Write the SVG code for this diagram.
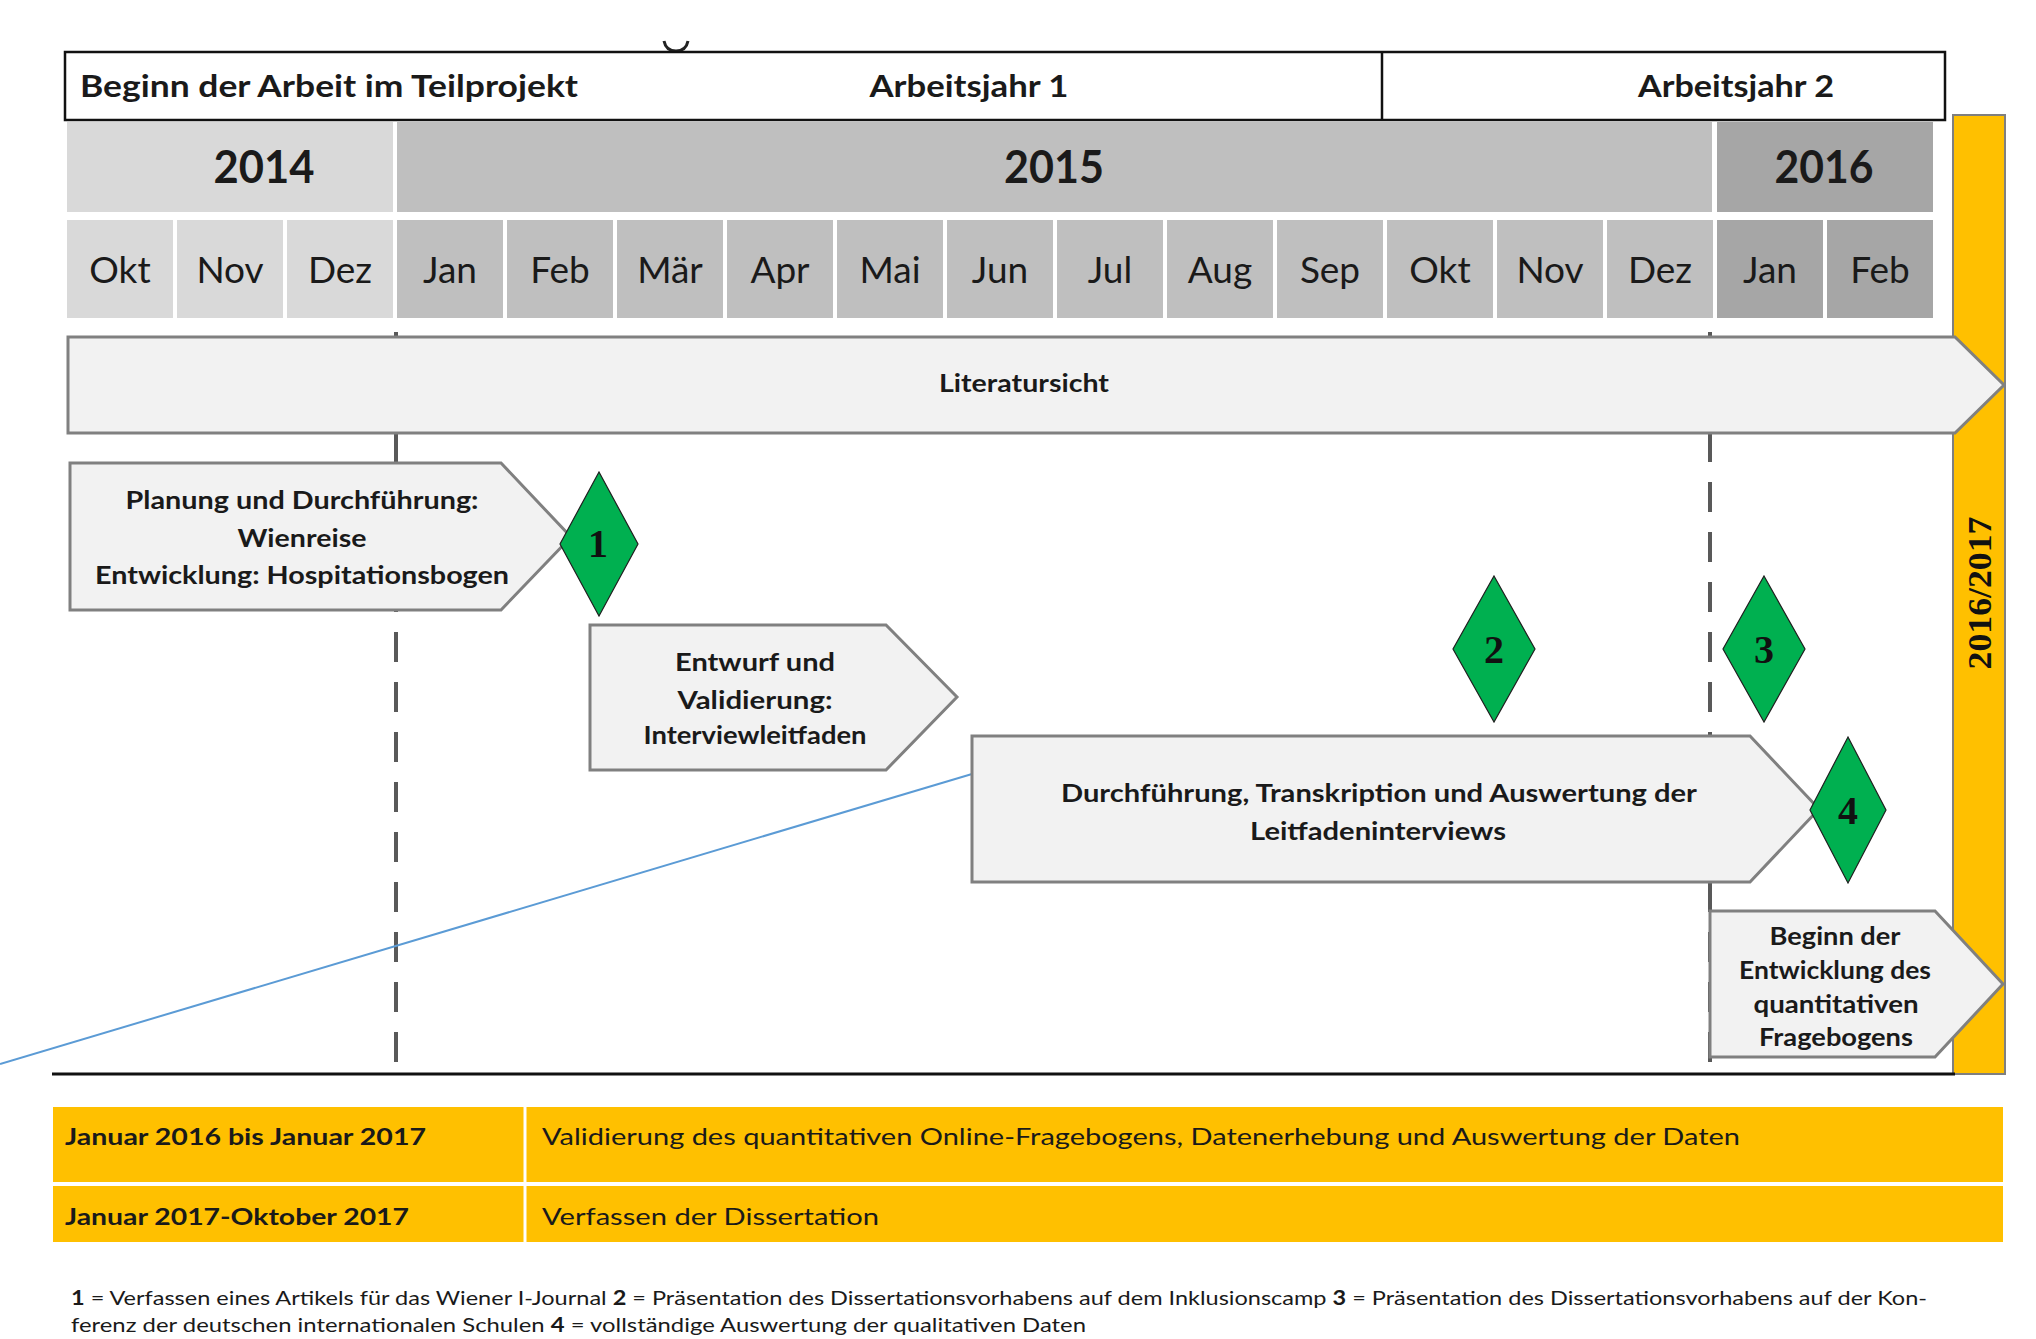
<svg xmlns="http://www.w3.org/2000/svg" width="2036" height="1339" viewBox="0 0 2036 1339">
<style>
.t{font-family:Lato,"Liberation Sans",sans-serif;fill:#1a1a1a}
.b{font-weight:700}
.c{text-anchor:middle}
.hdr{font-size:30px}
.yr{font-size:46px;font-weight:700}
.mo{font-size:37px}
.box{fill:#f2f2f2;stroke:#808080;stroke-width:3;stroke-linejoin:miter}
.lbl{font-size:25px;font-weight:700}
.dia{fill:#00b050;stroke:#1f1f1f;stroke-width:1.2}
.num{font-family:"Liberation Serif",serif;font-weight:700;font-size:40px;text-anchor:middle;fill:#111}
.y14{fill:#d9d9d9}.y15{fill:#bfbfbf}.y16{fill:#a6a6a6}
.dash{stroke:#595959;stroke-width:4;stroke-dasharray:30 20;fill:none}
.tab{font-size:23px}
.leg{font-size:20px}
</style>

<!-- small cropped fragment at top -->
<path d="M664,41 Q666,51 676,51 Q686,51 688,41" fill="none" stroke="#222" stroke-width="3"/>

<g id="header">
  <rect x="65" y="52" width="1880" height="68" fill="#fff" stroke="#111" stroke-width="2.5"/>
  <line x1="1382" y1="52" x2="1382" y2="120" stroke="#111" stroke-width="2.5"/>
  <text class="t b hdr" x="80" y="97" textLength="498" lengthAdjust="spacingAndGlyphs">Beginn der Arbeit im Teilprojekt</text>
  <text class="t b hdr c" x="969" y="97" textLength="199" lengthAdjust="spacingAndGlyphs">Arbeitsjahr 1</text>
  <text class="t b hdr c" x="1736" y="97" textLength="196" lengthAdjust="spacingAndGlyphs">Arbeitsjahr 2</text>
</g>

<g id="years">
  <rect class="y14" x="67" y="122" width="326" height="90"/>
  <rect class="y15" x="397" y="122" width="1315" height="90"/>
  <rect class="y16" x="1717" y="122" width="216" height="90"/>
  <text class="t yr c" x="264" y="183" textLength="101" lengthAdjust="spacingAndGlyphs">2014</text>
  <text class="t yr c" x="1054" y="183" textLength="100" lengthAdjust="spacingAndGlyphs">2015</text>
  <text class="t yr c" x="1824" y="183" textLength="99" lengthAdjust="spacingAndGlyphs">2016</text>
</g>

<g id="months">
  <rect class="y14" x="67" y="220" width="106" height="98"/>
  <rect class="y14" x="177" y="220" width="106" height="98"/>
  <rect class="y14" x="287" y="220" width="106" height="98"/>
  <rect class="y15" x="397" y="220" width="106" height="98"/>
  <rect class="y15" x="507" y="220" width="106" height="98"/>
  <rect class="y15" x="617" y="220" width="106" height="98"/>
  <rect class="y15" x="727" y="220" width="106" height="98"/>
  <rect class="y15" x="837" y="220" width="106" height="98"/>
  <rect class="y15" x="947" y="220" width="106" height="98"/>
  <rect class="y15" x="1057" y="220" width="106" height="98"/>
  <rect class="y15" x="1167" y="220" width="106" height="98"/>
  <rect class="y15" x="1277" y="220" width="106" height="98"/>
  <rect class="y15" x="1387" y="220" width="106" height="98"/>
  <rect class="y15" x="1497" y="220" width="106" height="98"/>
  <rect class="y15" x="1607" y="220" width="106" height="98"/>
  <rect class="y16" x="1717" y="220" width="106" height="98"/>
  <rect class="y16" x="1827" y="220" width="106" height="98"/>
  <text class="t mo c" x="120" y="283">Okt</text>
  <text class="t mo c" x="230" y="283">Nov</text>
  <text class="t mo c" x="340" y="283">Dez</text>
  <text class="t mo c" x="450" y="283">Jan</text>
  <text class="t mo c" x="560" y="283">Feb</text>
  <text class="t mo c" x="670" y="283">Mär</text>
  <text class="t mo c" x="780" y="283">Apr</text>
  <text class="t mo c" x="890" y="283">Mai</text>
  <text class="t mo c" x="1000" y="283">Jun</text>
  <text class="t mo c" x="1110" y="283">Jul</text>
  <text class="t mo c" x="1220" y="283">Aug</text>
  <text class="t mo c" x="1330" y="283">Sep</text>
  <text class="t mo c" x="1440" y="283">Okt</text>
  <text class="t mo c" x="1550" y="283">Nov</text>
  <text class="t mo c" x="1660" y="283">Dez</text>
  <text class="t mo c" x="1770" y="283">Jan</text>
  <text class="t mo c" x="1880" y="283">Feb</text>
</g>

<g id="bar-2016-2017">
  <rect x="1953" y="115" width="52" height="959" fill="#ffc000" stroke="#7f7f7f" stroke-width="2"/>
  <text font-family="'Liberation Serif',serif" font-weight="700" font-size="34" fill="#111" text-anchor="middle" transform="translate(1991,593) rotate(-90)" textLength="153" lengthAdjust="spacingAndGlyphs">2016/2017</text>
</g>

<g id="connectors">
  <line class="dash" x1="396" y1="332" x2="396" y2="1074"/>
  <line class="dash" x1="1710" y1="332" x2="1710" y2="1074"/>
  <line x1="0" y1="1064" x2="972" y2="774" stroke="#5b9bd5" stroke-width="2"/>
  <line x1="52" y1="1074" x2="1955" y2="1074" stroke="#111" stroke-width="3"/>
</g>

<g id="literatursicht">
  <path class="box" d="M68,337 L1955,337 L2004,385 L1955,433 L68,433 Z"/>
  <text class="t lbl c" x="1024" y="392" textLength="170" lengthAdjust="spacingAndGlyphs">Literatursicht</text>
</g>

<g id="planung">
  <path class="box" d="M70,463 L501,463 L571,537 L501,610 L70,610 Z"/>
  <text class="t lbl c" x="302" y="509" textLength="353" lengthAdjust="spacingAndGlyphs">Planung und Durchführung:</text>
  <text class="t lbl c" x="302" y="547" textLength="129" lengthAdjust="spacingAndGlyphs">Wienreise</text>
  <text class="t lbl c" x="302" y="584" textLength="414" lengthAdjust="spacingAndGlyphs">Entwicklung: Hospitationsbogen</text>
</g>

<g id="entwurf">
  <path class="box" d="M590,625 L886,625 L957,697 L886,770 L590,770 Z"/>
  <text class="t lbl c" x="755" y="671" textLength="160" lengthAdjust="spacingAndGlyphs">Entwurf und</text>
  <text class="t lbl c" x="755" y="709" textLength="155" lengthAdjust="spacingAndGlyphs">Validierung:</text>
  <text class="t lbl c" x="755" y="744" textLength="223" lengthAdjust="spacingAndGlyphs">Interviewleitfaden</text>
</g>

<g id="durchfuehrung">
  <path class="box" d="M972,736 L1750,736 L1819,809 L1750,882 L972,882 Z"/>
  <text class="t lbl c" x="1379" y="802" textLength="636" lengthAdjust="spacingAndGlyphs">Durchführung, Transkription und Auswertung der</text>
  <text class="t lbl c" x="1378" y="840" textLength="256" lengthAdjust="spacingAndGlyphs">Leitfadeninterviews</text>
</g>

<g id="beginn-fragebogen">
  <path class="box" d="M1710,911 L1935,911 L2003,984 L1935,1057 L1710,1057 Z"/>
  <text class="t lbl c" x="1835" y="945" font-size="24" textLength="131" lengthAdjust="spacingAndGlyphs">Beginn der</text>
  <text class="t lbl c" x="1835" y="979" font-size="24" textLength="192" lengthAdjust="spacingAndGlyphs">Entwicklung des</text>
  <text class="t lbl c" x="1836" y="1013" font-size="24" textLength="165" lengthAdjust="spacingAndGlyphs">quantitativen</text>
  <text class="t lbl c" x="1836" y="1046" font-size="24" textLength="154" lengthAdjust="spacingAndGlyphs">Fragebogens</text>
</g>

<g id="milestone-1">
  <polygon class="dia" points="599,472 638,544 599,616 560,544"/>
  <text class="num" x="598" y="557">1</text>
</g>
<g id="milestone-2">
  <polygon class="dia" points="1494,576 1535,649 1494,722 1453,649"/>
  <text class="num" x="1494" y="663">2</text>
</g>
<g id="milestone-3">
  <polygon class="dia" points="1764,576 1805,649 1764,722 1723,649"/>
  <text class="num" x="1764" y="663">3</text>
</g>
<g id="milestone-4">
  <polygon class="dia" points="1848,737 1886,810 1848,883 1810,810"/>
  <text class="num" x="1848" y="824">4</text>
</g>

<g id="table">
  <rect x="53" y="1107" width="1950" height="75" fill="#ffc000"/>
  <rect x="53" y="1186" width="1950" height="56" fill="#ffc000"/>
  <line x1="525" y1="1107" x2="525" y2="1242" stroke="#fff" stroke-width="3"/>
  <text class="t b tab" x="65" y="1145" textLength="361" lengthAdjust="spacingAndGlyphs">Januar 2016 bis Januar 2017</text>
  <text class="t tab" x="542" y="1145" textLength="1198" lengthAdjust="spacingAndGlyphs">Validierung des quantitativen Online-Fragebogens, Datenerhebung  und Auswertung der Daten</text>
  <text class="t b tab" x="65" y="1225" textLength="344" lengthAdjust="spacingAndGlyphs">Januar 2017-Oktober 2017</text>
  <text class="t tab" x="542" y="1225" textLength="337" lengthAdjust="spacingAndGlyphs">Verfassen der Dissertation</text>
</g>

<g id="legend">
  <text class="t leg" x="71" y="1305" textLength="1856" lengthAdjust="spacingAndGlyphs"><tspan font-weight="700">1</tspan> = Verfassen eines Artikels für das Wiener I-Journal <tspan font-weight="700">2</tspan> = Präsentation  des Dissertationsvorhabens  auf dem Inklusionscamp  <tspan font-weight="700">3</tspan> = Präsentation des Dissertationsvorhabens  auf der Kon-</text>
  <text class="t leg" x="71" y="1332" textLength="1015" lengthAdjust="spacingAndGlyphs">ferenz der deutschen internationalen Schulen  <tspan font-weight="700">4</tspan> = vollständige  Auswertung der qualitativen Daten</text>
</g>
</svg>
